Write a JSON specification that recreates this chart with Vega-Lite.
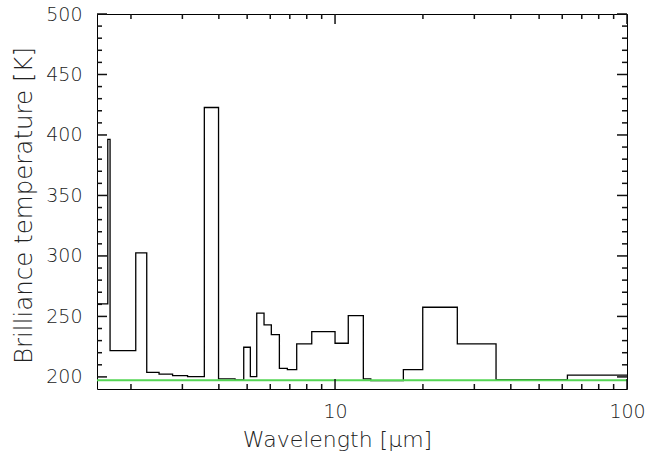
{
  "$schema": "https://vega.github.io/schema/vega-lite/v6.json",
  "width": 530,
  "height": 375,
  "autosize": {"type": "none"},
  "padding": {"left": 97, "top": 14, "right": 30, "bottom": 64},
  "background": "white",
  "config": {
    "view": {"stroke": "#000", "strokeWidth": 1},
    "axis": {
      "labelFont": "DejaVu Sans",
      "titleFont": "DejaVu Sans",
      "labelFontWeight": 200,
      "titleFontWeight": 200,
      "labelColor": "#222",
      "titleColor": "#222",
      "ticks": false,
      "domain": false,
      "grid": false,
      "labelFlush": false,
      "labelOverlap": false
    }
  },
  "datasets": {
    "spectrum": [
      {"w": 1.53, "T": 260.4},
      {"w": 1.666, "T": 396.4},
      {"w": 1.696, "T": 221.8},
      {"w": 2.077, "T": 302.6},
      {"w": 2.265, "T": 203.8},
      {"w": 2.496, "T": 202.3},
      {"w": 2.777, "T": 201.1},
      {"w": 3.125, "T": 200.3},
      {"w": 3.567, "T": 422.7},
      {"w": 3.99, "T": 198.3},
      {"w": 4.545, "T": 197.5},
      {"w": 4.867, "T": 224.5},
      {"w": 5.128, "T": 200.3},
      {"w": 5.393, "T": 252.7},
      {"w": 5.712, "T": 243.0},
      {"w": 6.05, "T": 235.0},
      {"w": 6.447, "T": 207.1},
      {"w": 6.866, "T": 206.0},
      {"w": 7.391, "T": 227.3},
      {"w": 8.322, "T": 237.5},
      {"w": 10.0, "T": 227.8},
      {"w": 11.1, "T": 250.7},
      {"w": 12.5, "T": 198.3},
      {"w": 13.26, "T": 197.0},
      {"w": 17.14, "T": 206.0},
      {"w": 19.97, "T": 257.6},
      {"w": 26.23, "T": 227.3},
      {"w": 35.6, "T": 197.8},
      {"w": 62.5, "T": 201.4},
      {"w": 100, "T": 201.4}
    ],
    "reference": [{"T": 197.2}],
    "xmajor": [{"w": 10}, {"w": 100}],
    "xminor": [{"w": 2}, {"w": 3}, {"w": 4}, {"w": 5}, {"w": 6}, {"w": 7}, {"w": 8}, {"w": 9}, {"w": 20}, {"w": 30}, {"w": 40}, {"w": 50}, {"w": 60}, {"w": 70}, {"w": 80}, {"w": 90}],
    "ymajor": [{"T": 200}, {"T": 250}, {"T": 300}, {"T": 350}, {"T": 400}, {"T": 450}, {"T": 500}],
    "yminor": [{"T": 210}, {"T": 220}, {"T": 230}, {"T": 240}, {"T": 260}, {"T": 270}, {"T": 280}, {"T": 290}, {"T": 310}, {"T": 320}, {"T": 330}, {"T": 340}, {"T": 360}, {"T": 370}, {"T": 380}, {"T": 390}, {"T": 410}, {"T": 420}, {"T": 430}, {"T": 440}, {"T": 460}, {"T": 470}, {"T": 480}, {"T": 490}]
  },
  "layer": [
    {
      "data": {"name": "spectrum"},
      "mark": {"type": "line", "interpolate": "step-after", "color": "#000", "strokeWidth": 1.3, "clip": true},
      "encoding": {
        "x": {"field": "w", "type": "quantitative", "scale": {"type": "log", "domain": [1.53, 100], "nice": false}, "axis": {"orient": "bottom", "values": [10, 100], "format": "d", "labelPadding": 13, "labelFontSize": 19, "title": "Wavelength [μm]", "titleFontSize": 22, "titleX": 240, "titleY": 50, "titleAlign": "center", "titleBaseline": "middle"}},
        "y": {"field": "T", "type": "quantitative", "scale": {"domain": [190, 500], "nice": false, "zero": false}, "axis": {"orient": "left", "values": [200, 250, 300, 350, 400, 450, 500], "labelPadding": 15, "labelFontSize": 19, "title": "Brilliance temperature [K]", "titleFontSize": 24.5, "titleX": -73, "titleY": 191, "titleAngle": -90, "titleAlign": "center", "titleBaseline": "middle"}}
      }
    },
    {
      "data": {"name": "reference"},
      "mark": {"type": "rule", "color": "#55d655", "strokeWidth": 2},
      "encoding": {"y": {"field": "T", "type": "quantitative"}}
    },
    {
      "data": {"name": "ymajor"},
      "mark": {"type": "rule", "color": "#111", "strokeWidth": 1.5, "x2Offset": 10},
      "encoding": {"y": {"field": "T", "type": "quantitative"}, "x": {"datum": 1.53, "type": "quantitative"}, "x2": {"datum": 1.53}}
    },
    {
      "data": {"name": "ymajor"},
      "mark": {"type": "rule", "color": "#111", "strokeWidth": 1.5, "x2Offset": -10},
      "encoding": {"y": {"field": "T", "type": "quantitative"}, "x": {"datum": 100, "type": "quantitative"}, "x2": {"datum": 100}}
    },
    {
      "data": {"name": "yminor"},
      "mark": {"type": "rule", "color": "#111", "strokeWidth": 1.5, "x2Offset": 5},
      "encoding": {"y": {"field": "T", "type": "quantitative"}, "x": {"datum": 1.53, "type": "quantitative"}, "x2": {"datum": 1.53}}
    },
    {
      "data": {"name": "yminor"},
      "mark": {"type": "rule", "color": "#111", "strokeWidth": 1.5, "x2Offset": -5},
      "encoding": {"y": {"field": "T", "type": "quantitative"}, "x": {"datum": 100, "type": "quantitative"}, "x2": {"datum": 100}}
    },
    {
      "data": {"name": "xmajor"},
      "mark": {"type": "rule", "color": "#111", "strokeWidth": 1.5, "y2Offset": -10},
      "encoding": {"x": {"field": "w", "type": "quantitative"}, "y": {"datum": 190, "type": "quantitative"}, "y2": {"datum": 190}}
    },
    {
      "data": {"name": "xmajor"},
      "mark": {"type": "rule", "color": "#111", "strokeWidth": 1.5, "y2Offset": 10},
      "encoding": {"x": {"field": "w", "type": "quantitative"}, "y": {"datum": 500, "type": "quantitative"}, "y2": {"datum": 500}}
    },
    {
      "data": {"name": "xminor"},
      "mark": {"type": "rule", "color": "#111", "strokeWidth": 1.5, "y2Offset": -5},
      "encoding": {"x": {"field": "w", "type": "quantitative"}, "y": {"datum": 190, "type": "quantitative"}, "y2": {"datum": 190}}
    },
    {
      "data": {"name": "xminor"},
      "mark": {"type": "rule", "color": "#111", "strokeWidth": 1.5, "y2Offset": 5},
      "encoding": {"x": {"field": "w", "type": "quantitative"}, "y": {"datum": 500, "type": "quantitative"}, "y2": {"datum": 500}}
    }
  ]
}
